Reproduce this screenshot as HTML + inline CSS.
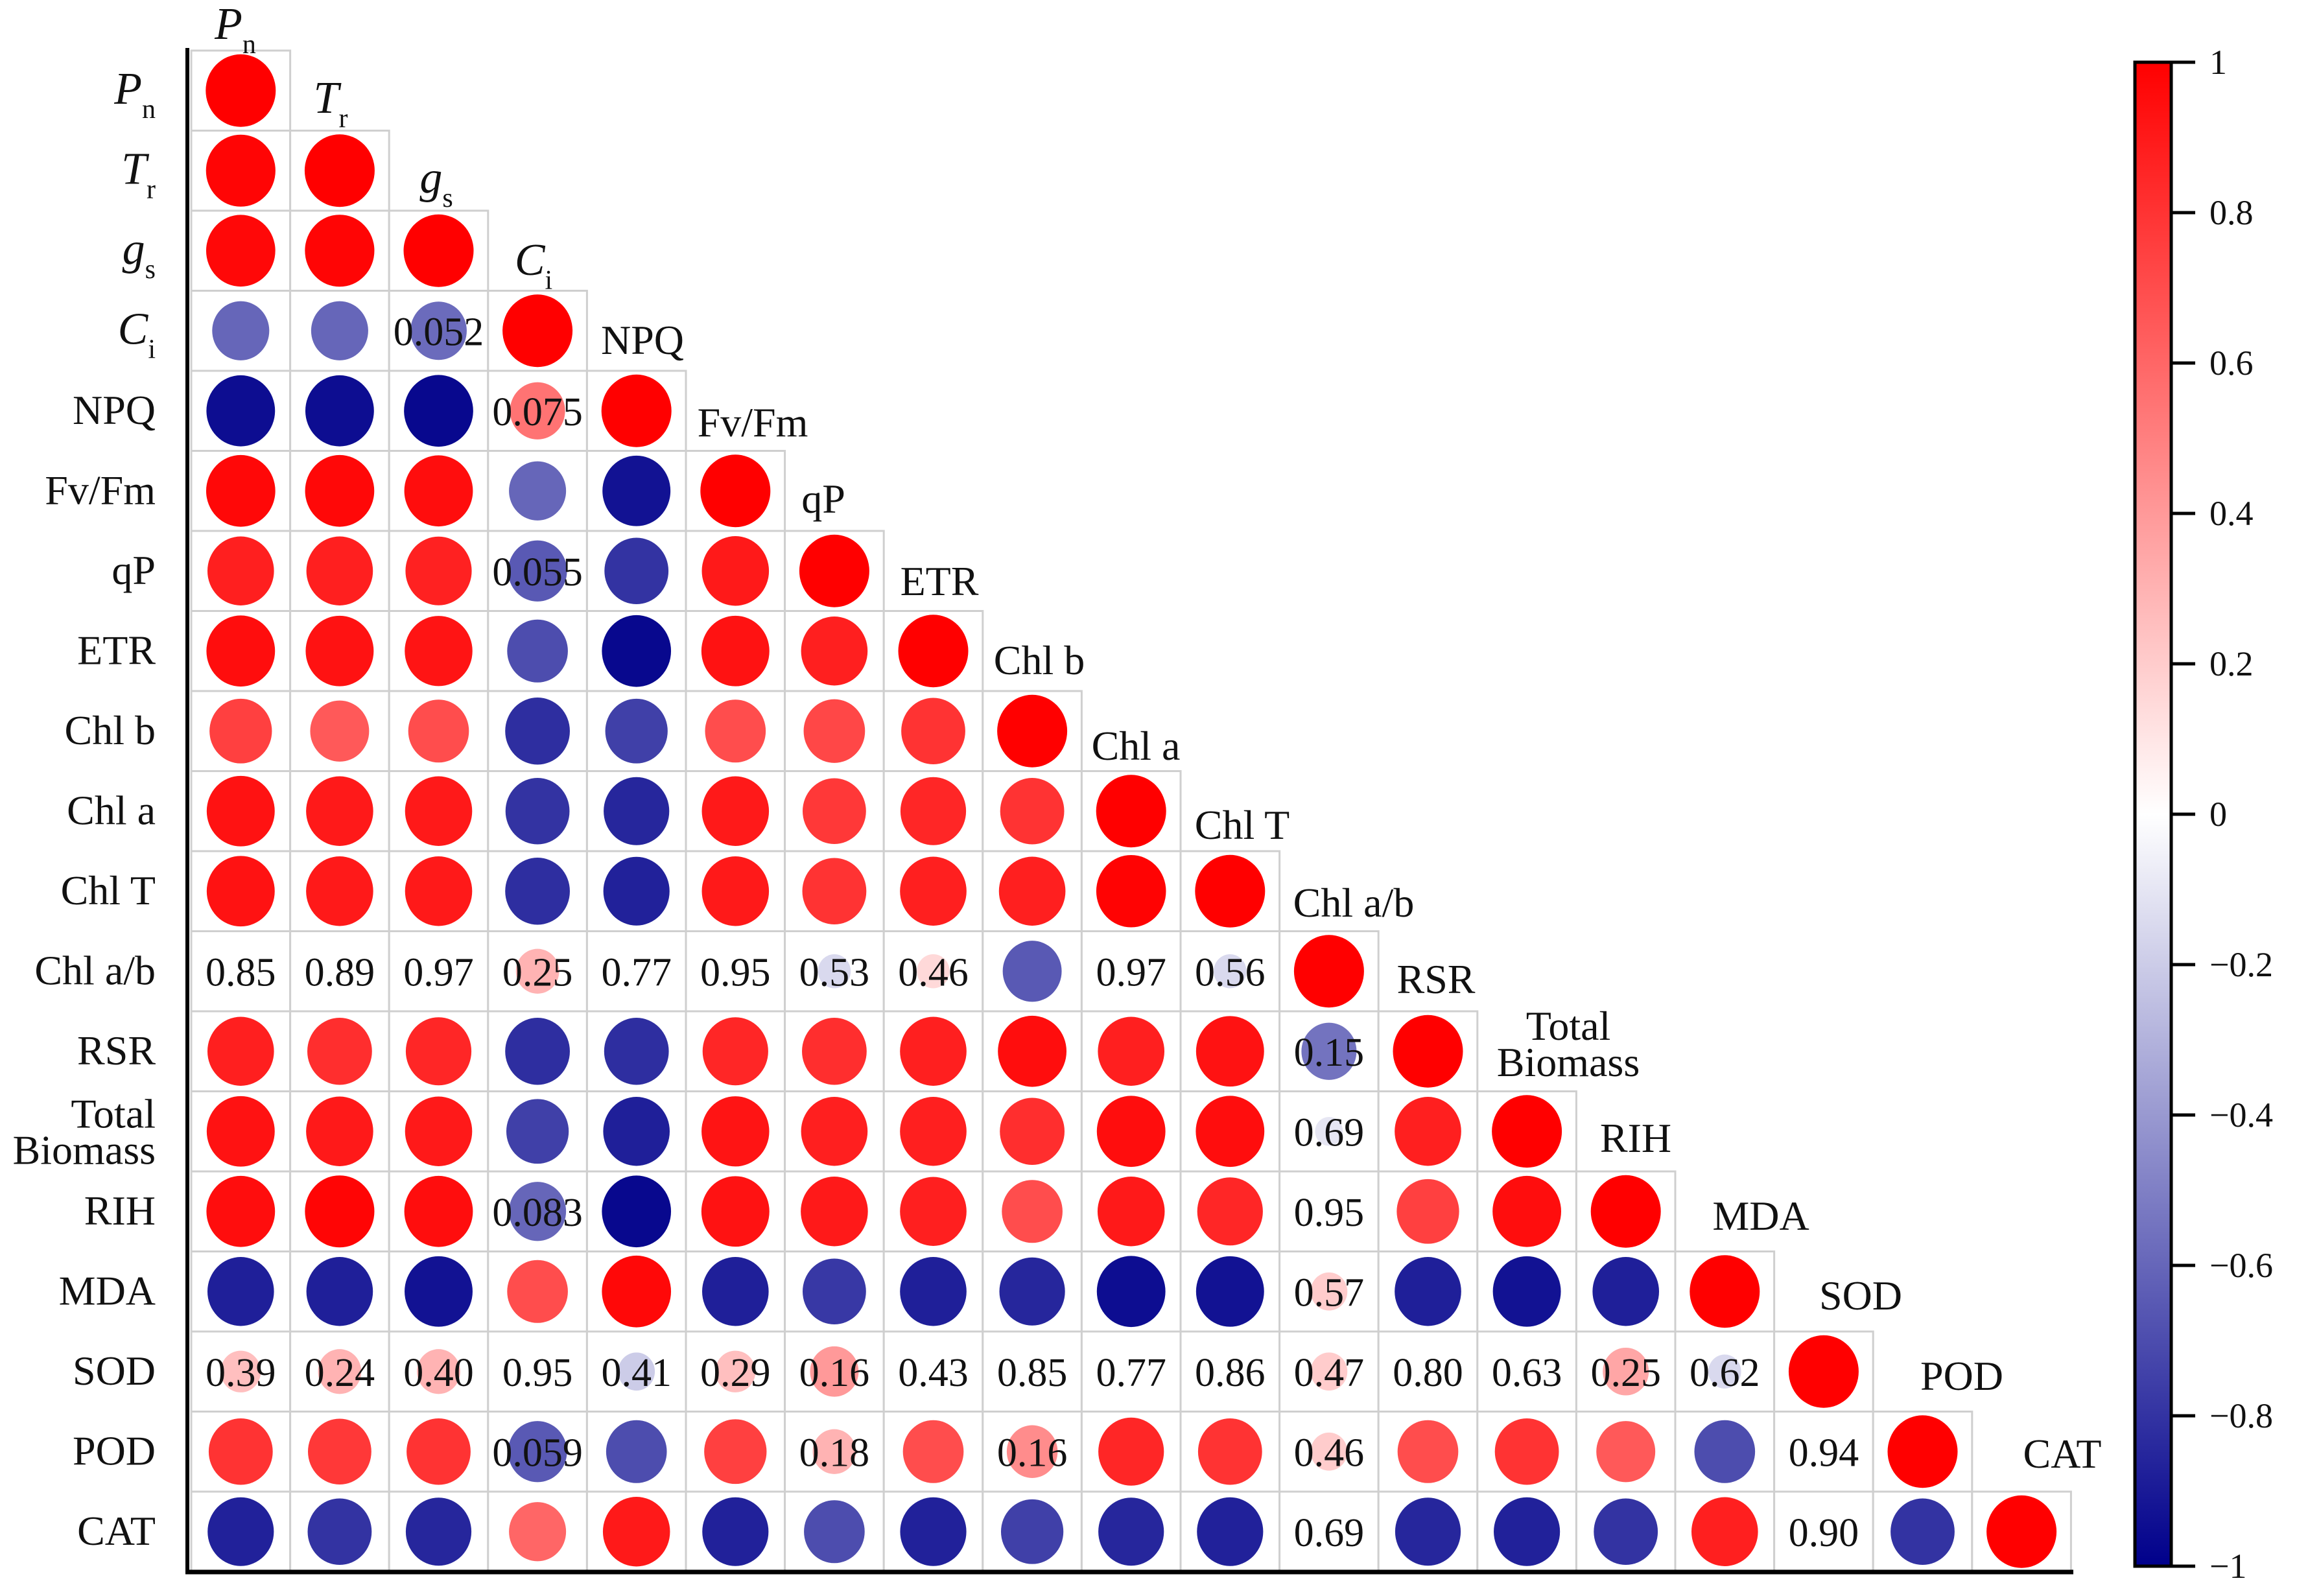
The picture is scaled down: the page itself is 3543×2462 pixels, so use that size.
<!DOCTYPE html>
<html><head><meta charset="utf-8"><style>
html,body{margin:0;padding:0;background:#fff}
svg{display:block}
text{font-family:"Liberation Serif",serif;fill:#111}
</style></head><body>
<svg id="chart" width="3543" height="2462" viewBox="0 0 3543 2462" xmlns="http://www.w3.org/2000/svg">
<defs>
<linearGradient id="cbgrad" x1="0" y1="0" x2="0" y2="1">
<stop offset="0" stop-color="#ff0000"/><stop offset="0.5" stop-color="#ffffff"/><stop offset="1" stop-color="#00008b"/>
</linearGradient>
</defs>
<g id="cells"></g>
<g id="labels"></g>
<line x1="289" y1="74" x2="289" y2="2428" stroke="#000" stroke-width="6"/>
<line x1="286" y1="2425" x2="3198" y2="2425" stroke="#000" stroke-width="7"/>
<g id="colorbar"></g>
</svg>
<script>
const variables = ["Pn","Tr","gs","Ci","NPQ","Fv/Fm","qP","ETR","Chl b","Chl a","Chl T","Chl a/b","RSR","Total Biomass","RIH","MDA","SOD","POD","CAT"];
// correlation (circle) values, lower triangle rows
const corrRows = [
 [1],
 [0.98,1],
 [0.97,0.98,1],
 [-0.6,-0.6,-0.58,1],
 [-0.95,-0.95,-0.97,0.55,1],
 [0.97,0.97,0.95,-0.6,-0.93,1],
 [0.88,0.88,0.87,-0.65,-0.8,0.9,1],
 [0.95,0.93,0.92,-0.7,-0.97,0.93,0.88,1],
 [0.75,0.65,0.7,-0.82,-0.75,0.7,0.72,0.8,1],
 [0.93,0.9,0.9,-0.8,-0.85,0.9,0.78,0.85,0.8,1],
 [0.93,0.9,0.9,-0.82,-0.87,0.9,0.8,0.88,0.88,0.99,1],
 [0,0,0,0.3,0,0,-0.15,0.15,-0.65,0,-0.15,1],
 [0.88,0.82,0.85,-0.82,-0.82,0.85,0.82,0.88,0.95,0.88,0.93,-0.55,1],
 [0.93,0.9,0.9,-0.75,-0.88,0.92,0.88,0.88,0.82,0.95,0.95,-0.1,0.88,1],
 [0.95,0.98,0.95,-0.6,-0.97,0.93,0.9,0.88,0.7,0.9,0.85,0,0.75,0.95,1],
 [-0.88,-0.88,-0.93,0.7,0.97,-0.88,-0.78,-0.88,-0.85,-0.95,-0.93,0.2,-0.88,-0.93,-0.88,1],
 [0.25,0.3,0.3,0,-0.2,0.25,0.4,0,0,0,0,0.2,0,0,0.35,-0.15,1],
 [0.8,0.78,0.8,-0.65,-0.7,0.75,0.3,0.7,0.45,0.85,0.8,0.2,0.7,0.8,0.65,-0.7,0,1],
 [-0.87,-0.8,-0.85,0.6,0.9,-0.87,-0.7,-0.87,-0.75,-0.85,-0.87,0,-0.85,-0.87,-0.8,0.88,0,-0.8,1]
];
// printed p-values in cells ("" = none)
const pRows = [
 [],[],[],
 ["","","0.052"],
 ["","","","0.075"],
 [],
 ["","","","0.055"],
 [],[],[],[],
 ["0.85","0.89","0.97","0.25","0.77","0.95","0.53","0.46","","0.97","0.56"],
 ["","","","","","","","","","","","0.15"],
 ["","","","","","","","","","","","0.69"],
 ["","","","0.083","","","","","","","","0.95"],
 ["","","","","","","","","","","","0.57"],
 ["0.39","0.24","0.40","0.95","0.41","0.29","0.16","0.43","0.85","0.77","0.86","0.47","0.80","0.63","0.25","0.62"],
 ["","","","0.059","","","0.18","","0.16","","","0.46","","","","","0.94"],
 ["","","","","","","","","","","","0.69","","","","","0.90"]
];
const cbTicks = [1,0.8,0.6,0.4,0.2,0,-0.2,-0.4,-0.6,-0.8,-1];
const cbTickLabels = ["1","0.8","0.6","0.4","0.2","0","\u22120.2","\u22120.4","\u22120.6","\u22120.8","\u22121"];

const NS="http://www.w3.org/2000/svg";
const X0=295, Y0=78, CW=152.6, CH=123.5;
const xPos = j => X0 + j*CW;
const yPos = i => Y0 + i*CH;
function colorOf(r){
  if(r>=0){const t=r;return `rgb(255,${Math.round(255*(1-t))},${Math.round(255*(1-t))})`;}
  const t=-r;return `rgb(${Math.round(255*(1-t))},${Math.round(255*(1-t))},${Math.round(255-(255-139)*t)})`;
}
function mk(tag,attrs,parent){const e=document.createElementNS(NS,tag);for(const k in attrs)e.setAttribute(k,attrs[k]);parent.appendChild(e);return e;}
const cells=document.getElementById('cells');
corrRows.forEach((row,i)=>{
  row.forEach((r,j)=>{
    const g=mk('g',{},cells);
    
    
    const rc=mk('rect',{x:xPos(j),y:yPos(i),width:CW,height:CH,fill:'#fff',stroke:'#cfcfcf','stroke-width':3},g);
    
    
    if(r!==0){
      const s=Math.pow(Math.abs(r),0.4);
      const el=mk('ellipse',{cx:xPos(j)+CW/2,cy:yPos(i)+CH/2,rx:54*s,ry:56*s,fill:colorOf(r)},g);
      
      
    }
    const p=(pRows[i]||[])[j];
    if(p){
      const t=mk('text',{x:xPos(j)+CW/2,y:yPos(i)+CH/2+22,'text-anchor':'middle','font-size':62},g);
      t.textContent=p;
      
      
    }
  });
});
// labels
const labels=document.getElementById('labels');
const topLabelPos=[[363,40],[510,154],[673,277],[823,404],[991,526],[1161,653],[1270,771],[1449,898],[1603,1020],[1752,1152],[1916,1274],[2088,1394],[2215,1512],[2419,1610],[2523,1757],[2716,1877],[2870,2000],[3026,2124],[3181,2244]];
const italicSub={"Pn":["P","n"],"Tr":["T","r"],"gs":["g","s"],"Ci":["C","i"]};
function writeLabel(parent,name,x,y,anchor){
  const t=mk('text',{x:x,y:y,'text-anchor':anchor,'font-size':64},parent);
  if(italicSub[name]){
    const a=mk('tspan',{'font-style':'italic','font-size':70},t);a.textContent=italicSub[name][0];
    const b=mk('tspan',{'font-size':42,dy:22},t);b.textContent=italicSub[name][1];
  } else if(name==="Total Biomass"){
    const a=mk('tspan',{x:x,dy:-26},t);a.textContent="Total";
    const b=mk('tspan',{x:x,dy:56},t);b.textContent="Biomass";
  } else t.textContent=name;
  return t;
}
variables.forEach((v,i)=>{
  const rl=writeLabel(labels,v,240,yPos(i)+CH/2+20,'end');
  
  
  const tl=writeLabel(labels,v,topLabelPos[i][0],topLabelPos[i][1]+20,'middle');
  
  
});
// colorbar
const cb=document.getElementById('colorbar');
const CB_X=3293, CB_W=56, CB_TOP=96, CB_BOT=2416;
const cbY = v => CB_TOP + (1-v)/2*(CB_BOT-CB_TOP);
const bar=mk('rect',{x:CB_X,y:CB_TOP,width:CB_W,height:CB_BOT-CB_TOP,fill:'url(#cbgrad)',stroke:'#000','stroke-width':5},cb);


cbTicks.forEach((v,k)=>{
  const ln=mk('line',{x1:CB_X+CB_W,x2:3386,y1:cbY(v),y2:cbY(v),stroke:'#000','stroke-width':5},cb);
  
  
  const t=mk('text',{x:3408,y:cbY(v)+18,'font-size':54},cb);
  t.textContent=cbTickLabels[k];
  
  
});
</script>
</body></html>
